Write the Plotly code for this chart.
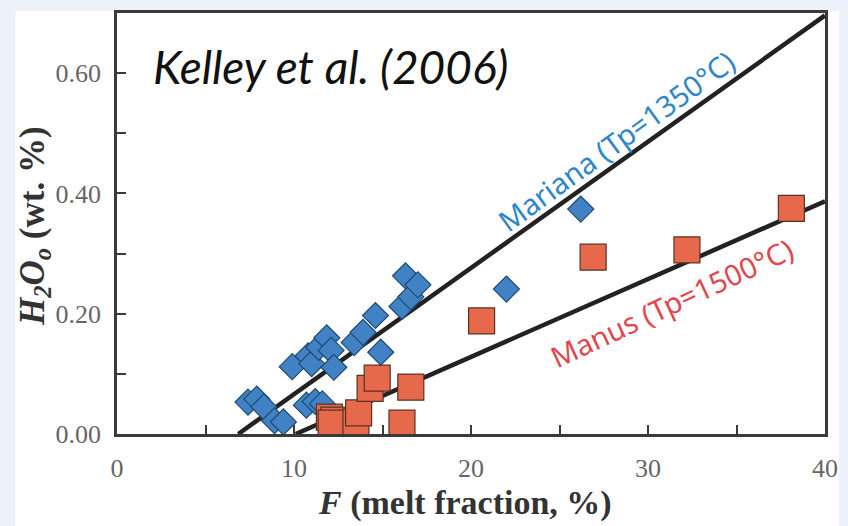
import plotly.graph_objects as go

# ---- data ----
mariana_F = [7.4, 7.9, 8.3, 8.9, 9.4, 9.9, 10.7, 11.2, 11.6,
             10.8, 11.0, 11.4, 11.85, 12.1, 12.25,
             13.4, 13.9, 14.6, 14.9,
             16.1, 16.3, 16.6, 17.0, 22.0, 26.2]
mariana_H = [0.053, 0.058, 0.045, 0.022, 0.020, 0.112, 0.048, 0.054, 0.050,
             0.130, 0.117, 0.144, 0.160, 0.139, 0.111,
             0.152, 0.169, 0.197, 0.136,
             0.212, 0.263, 0.228, 0.248, 0.241, 0.374]

manus_F = [12.0, 12.25, 12.1, 13.5, 13.65, 14.3, 14.7, 16.1, 16.6,
           20.6, 26.9, 32.2, 38.1]
manus_H = [0.028, 0.023, 0.018, 0.020, 0.035, 0.076, 0.093, 0.018, 0.078,
           0.188, 0.294, 0.306, 0.375]

mariana_line_F = [6.85, 40.0]
mariana_line_H = [0.0, 0.696]
manus_line_F = [10.1, 40.0]
manus_line_H = [0.0, 0.387]

x_ticks = [0, 10, 20, 30, 40]
y_ticks = [0.0, 0.2, 0.4, 0.6]
y_ticktext = ["0.00", "0.20", "0.40", "0.60"]

# ---- figure ----
fig = go.Figure()
fig.add_trace(go.Scatter(x=mariana_line_F, y=mariana_line_H, mode="lines",
                         line=dict(color="#222222", width=4.5),
                         hoverinfo="skip", showlegend=False))
fig.add_trace(go.Scatter(x=manus_line_F, y=manus_line_H, mode="lines",
                         line=dict(color="#222222", width=4.5),
                         hoverinfo="skip", showlegend=False))
fig.add_trace(go.Scatter(x=mariana_F, y=mariana_H, mode="markers", name="Mariana",
                         cliponaxis=False,
                         marker=dict(symbol="diamond", size=20, color="#4182c4",
                                     line=dict(color="#1e4a75", width=1.2)),
                         showlegend=False))
fig.add_trace(go.Scatter(x=manus_F, y=manus_H, mode="markers", name="Manus",
                         cliponaxis=False,
                         marker=dict(symbol="square", size=26, color="#e5694a",
                                     line=dict(color="#5a3222", width=1.2)),
                         showlegend=False))

tickfont = dict(family="Liberation Serif, Times New Roman, serif", size=26, color="#666666")
axis_common = dict(showline=True, mirror=True, linecolor="#3a3a3a", linewidth=2.5,
                   showgrid=False, zeroline=False, ticks="inside", ticklen=9,
                   tickwidth=2.2, tickcolor="#3a3a3a", tickfont=tickfont)

fig.update_xaxes(range=[0, 40], tickvals=x_ticks,
                 minor=dict(dtick=5, tick0=0, ticks="inside", ticklen=9,
                            tickwidth=2.2, tickcolor="#3a3a3a"),
                 ticklabelstandoff=9, **axis_common)
fig.update_yaxes(range=[0, 0.70], tickvals=y_ticks, ticktext=y_ticktext,
                 minor=dict(dtick=0.1, tick0=0, ticks="inside", ticklen=9,
                            tickwidth=2.2, tickcolor="#3a3a3a"),
                 ticklabelstandoff=8, **axis_common)

L, R, T, B = 117, 19, 10, 92
W, H = 848, 526
pw, ph = W - L - R, H - T - B

def px_x(p):
    return (p - L) / pw

def px_y(p):
    return (H - B - p) / ph

# white panel over light-blue page
fig.add_shape(type="rect", xref="paper", yref="paper", layer="below",
              x0=px_x(15), x1=px_x(843), y0=px_y(530), y1=px_y(8),
              fillcolor="white", line=dict(width=0))

def note(xp, yp, text, font, angle=0):
    return dict(x=px_x(xp), y=px_y(yp), xref="paper", yref="paper",
                xanchor="center", yanchor="middle", text=text,
                showarrow=False, textangle=angle, font=font)

ann = [
    note(332, 64, "<i>Kelley et al. (2006)</i>",
         dict(family="Lato, Carlito, sans-serif", size=46, color="#111111")),
    note(619, 138, "Mariana (Tp=1350°C)",
         dict(family="Noto Sans, sans-serif", size=29, color="#2f86c8"), -36),
    note(675, 302, "Manus (Tp=1500°C)",
         dict(family="Noto Sans, sans-serif", size=29, color="#e0474f"), -25),
    note(467, 503, "<b><i>F</i> (melt fraction, %)</b>",
         dict(family="Liberation Serif, Times New Roman, serif", size=34, color="#333333")),
    note(34, 224, "<b><i>H<sub>2</sub>O<sub>o</sub></i> (wt. %)</b>",
         dict(family="Liberation Serif, Times New Roman, serif", size=35, color="#333333"), -90),
]

fig.update_layout(width=W, height=H,
                  margin=dict(l=L, r=R, t=T, b=B, pad=0),
                  paper_bgcolor="#edf2fa", plot_bgcolor="white",
                  annotations=ann, showlegend=False)

fig.write_html("out.html")
